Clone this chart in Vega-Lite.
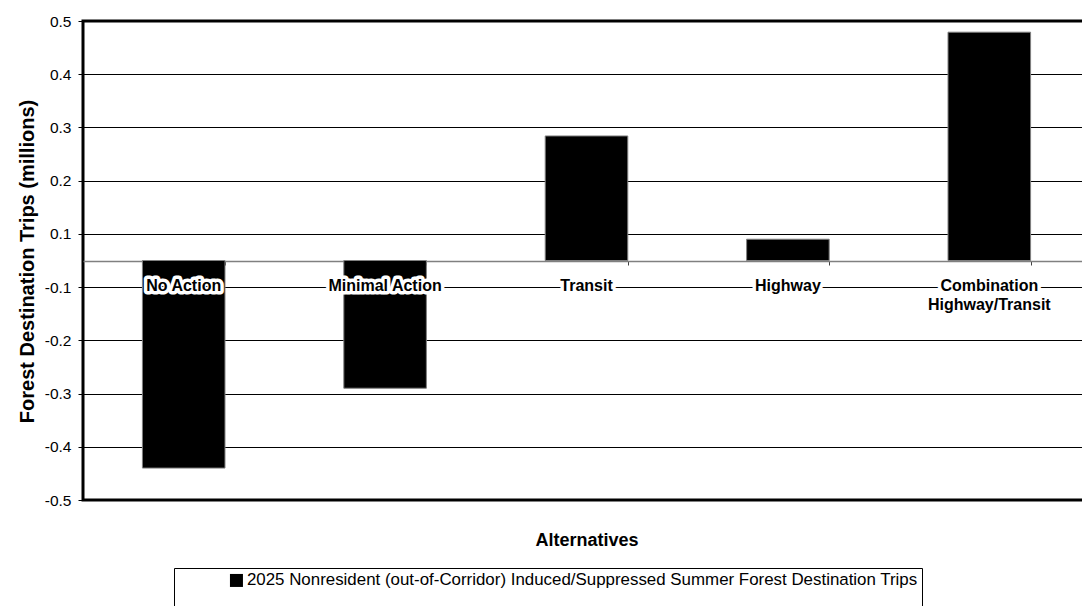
{
  "$schema": "https://vega.github.io/schema/vega-lite/v6.json",
  "width": 1007,
  "height": 479,
  "autosize": {"type": "none"},
  "padding": {"left": 83, "top": 21, "right": -8, "bottom": 106},
  "background": "white",
  "config": {
    "font": "Liberation Sans",
    "view": {"stroke": "black", "strokeWidth": 3}
  },
  "data": {
    "values": [
      {"alternative": "No Action", "label": "No Action", "value": -0.390, "series": "2025 Nonresident (out-of-Corridor) Induced/Suppressed Summer Forest Destination Trips"},
      {"alternative": "Minimal Action", "label": "Minimal Action", "value": -0.240, "series": "2025 Nonresident (out-of-Corridor) Induced/Suppressed Summer Forest Destination Trips"},
      {"alternative": "Transit", "label": "Transit", "value": 0.234, "series": "2025 Nonresident (out-of-Corridor) Induced/Suppressed Summer Forest Destination Trips"},
      {"alternative": "Highway", "label": "Highway", "value": 0.040, "series": "2025 Nonresident (out-of-Corridor) Induced/Suppressed Summer Forest Destination Trips"},
      {"alternative": "Combination Highway/Transit", "label": "Combination\nHighway/Transit", "value": 0.429, "series": "2025 Nonresident (out-of-Corridor) Induced/Suppressed Summer Forest Destination Trips"}
    ]
  },
  "encoding": {
    "x": {
      "field": "alternative",
      "type": "nominal",
      "sort": null,
      "scale": {"paddingInner": 0.59, "paddingOuter": 0.295},
      "axis": {
        "orient": "bottom",
        "offset": -239,
        "labels": false,
        "grid": false,
        "domainColor": "#808080",
        "domainWidth": 1.5,
        "tickBand": "extent",
        "tickColor": "#404040",
        "tickSize": 4,
        "tickWidth": 1,
        "title": "Alternatives",
        "titleFontSize": 18,
        "titleFontWeight": "bold",
        "titleColor": "black",
        "titleBaseline": "alphabetic",
        "titleY": 284,
        "titleX": 503.5,
        "titleAlign": "center"
      }
    }
  },
  "layer": [
    {
      "mark": {"type": "bar", "stroke": "#808080", "strokeWidth": 1},
      "encoding": {
        "y": {
          "field": "value",
          "type": "quantitative",
          "scale": {"domain": [-0.45, 0.45], "nice": false, "zero": false},
          "axis": {
            "values": [-0.45, -0.35, -0.25, -0.15, -0.05, 0.05, 0.15, 0.25, 0.35, 0.45],
            "labelExpr": "(datum.value < 0 ? '-' : '') + format(round(abs(datum.value) * 10 + 0.000001) / 10, '.1f')",
            "labelFontSize": 15.5,
            "labelColor": "black",
            "labelPadding": 7,
            "domain": false,
            "grid": true,
            "gridColor": "black",
            "gridWidth": 1,
            "gridOpacity": 1,
            "tickColor": "black",
            "tickSize": 5,
            "tickWidth": 1,
            "title": "Forest Destination Trips (millions)",
            "titleFontSize": 20,
            "titleFontWeight": "bold",
            "titleColor": "black",
            "titleX": -56,
            "titleY": 240,
            "titleAngle": 270,
            "titleAlign": "center",
            "titleBaseline": "middle"
          }
        },
        "color": {
          "field": "series",
          "type": "nominal",
          "scale": {"range": ["black"]},
          "legend": {
            "orient": "none",
            "legendX": 91,
            "legendY": 547,
            "title": " ",
            "titleOrient": "bottom",
            "titleFontSize": 30,
            "strokeColor": "black",
            "padding": 4,
            "symbolType": "square",
            "symbolSize": 169,
            "symbolOffset": 50,
            "symbolStrokeWidth": 0,
            "labelFontSize": 16.9,
            "labelColor": "black",
            "labelOffset": 2,
            "labelLimit": 2000
          }
        }
      }
    },
    {
      "mark": {
        "type": "text",
        "fontSize": 16,
        "fontWeight": "bold",
        "baseline": "alphabetic",
        "align": "center",
        "dy": 4,
        "lineBreak": "\n",
        "lineHeight": 19,
        "fill": "white",
        "stroke": "white",
        "strokeWidth": 7,
        "strokeJoin": "round"
      },
      "encoding": {
        "y": {"datum": -0.05},
        "text": {"field": "label"}
      }
    },
    {
      "mark": {
        "type": "text",
        "fontSize": 16,
        "fontWeight": "bold",
        "baseline": "alphabetic",
        "align": "center",
        "dy": 4,
        "lineBreak": "\n",
        "lineHeight": 19,
        "color": "black"
      },
      "encoding": {
        "y": {"datum": -0.05},
        "text": {"field": "label"}
      }
    }
  ]
}
